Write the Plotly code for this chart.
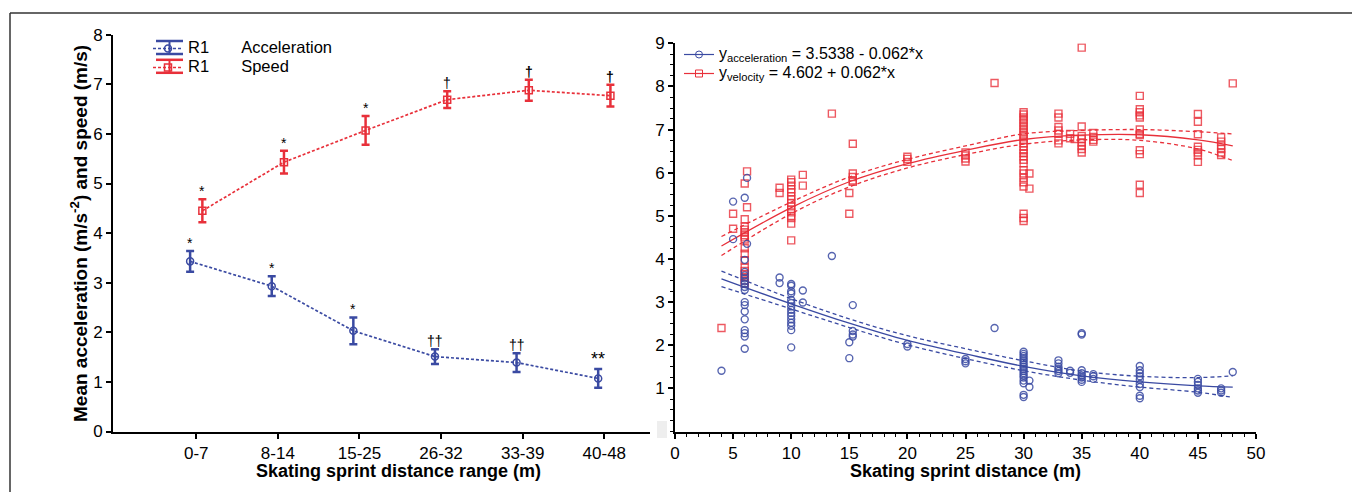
import plotly.graph_objects as go

W, H = 1352, 492


def px(xr):
    return xr / W


def py(yr):
    return 1 - yr / H


# ---------------- Left panel data (means +/- error) ----------------
categories = ["0-7", "8-14", "15-25", "26-32", "33-39", "40-48"]
acc_mean = [3.43, 2.93, 2.03, 1.51, 1.39, 1.07]
acc_err = [0.21, 0.20, 0.27, 0.15, 0.19, 0.19]
speed_mean = [4.45, 5.43, 6.07, 6.69, 6.88, 6.77]
speed_err = [0.23, 0.23, 0.29, 0.17, 0.21, 0.22]
acc_sig = ["*", "*", "*", "††", "††", "**"]
speed_sig = ["*", "*", "*", "†", "<b>†</b>", "<b>†</b>"]

# ---------------- Right panel data (individual observations) ----------------
vel_cols = [
    (4, [2.40]),
    (5, [5.05, 4.70]),
    (6, [5.75, 4.92, 4.75, 4.68, 4.62, 4.55, 4.50, 4.45, 4.25, 4.12, 3.97,
         3.80, 3.72, 3.65, 3.58, 3.50, 3.43]),
    (6.2, [6.03, 5.20]),
    (9, [5.65, 5.53]),
    (10, [5.84, 5.78, 5.70, 5.62, 5.55, 5.45, 5.38, 5.30, 5.22, 5.15, 5.08,
          5.00, 4.95, 4.82, 4.43]),
    (11, [5.95, 5.70]),
    (13.5, [7.37]),
    (15, [5.53, 5.05]),
    (15.3, [6.67, 5.98, 5.90, 5.82, 5.79]),
    (20, [6.37, 6.32, 6.25]),
    (25, [6.47, 6.40, 6.33, 6.26]),
    (27.5, [8.08]),
    (30, [7.40, 7.35, 7.28, 7.22, 7.15, 7.08, 7.02, 6.95, 6.88, 6.82, 6.75,
          6.68, 6.60, 6.52, 6.45, 6.38, 6.30, 6.22, 6.06, 5.98, 5.88, 5.78,
          5.68, 5.05, 4.95, 4.88]),
    (30.5, [5.98, 5.63]),
    (33, [7.37, 7.28, 7.06, 6.98, 6.90, 6.75, 6.68]),
    (34, [6.90, 6.80]),
    (34.4, [6.78]),
    (35, [8.90, 7.07, 6.85, 6.78, 6.70, 6.62, 6.55, 6.47]),
    (36, [6.92, 6.83, 6.76, 6.72]),
    (40, [7.78, 7.47, 7.40, 7.33, 7.28, 7.00, 6.90, 6.87, 6.52, 6.43, 5.72, 5.53]),
    (45, [7.36, 7.18, 6.89, 6.60, 6.53, 6.47, 6.40, 6.25]),
    (47, [6.82, 6.72, 6.63, 6.55, 6.47, 6.41]),
    (48, [8.07]),
]
acc_cols = [
    (4, [1.41]),
    (5, [5.33, 4.46]),
    (6, [5.42, 3.98, 3.70, 3.62, 3.55, 3.48, 3.42, 3.35, 3.28, 3.00, 2.93,
         2.78, 2.60, 2.35, 2.28, 2.20, 1.92]),
    (6.2, [5.88, 4.35]),
    (9, [3.57, 3.44]),
    (10, [3.42, 3.38, 3.25, 3.20, 3.05, 2.98, 2.90, 2.82, 2.75, 2.68, 2.60,
          2.52, 2.45, 2.35, 1.95]),
    (11, [3.27, 2.99]),
    (13.5, [4.07]),
    (15, [2.07, 1.70]),
    (15.3, [2.93, 2.33, 2.25, 2.20]),
    (20, [2.03, 1.97]),
    (25, [1.68, 1.63, 1.58]),
    (27.5, [2.40]),
    (30, [1.85, 1.80, 1.75, 1.70, 1.65, 1.60, 1.55, 1.50, 1.45, 1.40, 1.35,
          1.30, 1.25, 1.18, 1.12, 0.85, 0.80]),
    (30.5, [1.18, 1.03]),
    (33, [1.65, 1.58, 1.50, 1.45, 1.40, 1.35]),
    (34, [1.41, 1.36]),
    (35, [2.28, 2.25, 1.42, 1.35, 1.30, 1.25, 1.20, 1.15]),
    (36, [1.33, 1.28, 1.22]),
    (40, [1.52, 1.42, 1.35, 1.28, 1.20, 1.10, 1.03, 0.83, 0.77]),
    (45, [1.22, 1.15, 1.08, 1.00, 0.95, 0.90]),
    (47, [1.00, 0.95, 0.90]),
    (48, [1.38]),
]

# Fitted curves and confidence bands
fit_x = [4, 10, 15, 20, 25, 30, 35, 40, 45, 48]
vel_fit = [4.30, 5.19, 5.79, 6.21, 6.52, 6.77, 6.87, 6.88, 6.76, 6.62]
vel_up = [4.52, 5.32, 5.90, 6.31, 6.62, 6.90, 6.98, 7.00, 6.95, 6.90]
vel_lo = [4.08, 5.05, 5.67, 6.11, 6.42, 6.66, 6.76, 6.75, 6.55, 6.28]
acc_fit = [3.54, 2.96, 2.51, 2.11, 1.80, 1.51, 1.29, 1.15, 1.06, 1.03]
acc_up = [3.72, 3.08, 2.61, 2.22, 1.92, 1.64, 1.40, 1.28, 1.25, 1.29]
acc_lo = [3.36, 2.84, 2.41, 2.01, 1.69, 1.41, 1.19, 1.03, 0.91, 0.79]

BLUE = "#3a4aa2"
RED = "#e8303a"
BLUE_L = "rgba(58,74,162,0.85)"
RED_L = "rgba(232,48,58,0.8)"
FONT = "Liberation Sans, Arial, sans-serif"


def flat(cols):
    xs, ys = [], []
    for x, vals in cols:
        for v in vals:
            xs.append(x)
            ys.append(v)
    return xs, ys


def big(text, size):
    return '<span style="font-size:%spx">%s</span>' % (size, text)


fig = go.Figure()

# ---------------- Left panel ----------------
idx = list(range(len(categories)))
off = 0.075
acc_x = [i - off for i in idx]
spd_x = [i + off for i in idx]
SP = "\u00a0" * 7

fig.add_trace(go.Scatter(
    x=acc_x, y=acc_mean, mode="lines+markers",
    name=big("R1" + SP + "Acceleration", 16.5),
    line=dict(color=BLUE, width=1.7, dash="3px,2px"),
    marker=dict(symbol="circle-open", size=7, color=BLUE, line=dict(width=1.5)),
    error_y=dict(type="data", array=acc_err, color=BLUE, thickness=2.5, width=4),
    xaxis="x", yaxis="y", legend="legend",
))
fig.add_trace(go.Scatter(
    x=spd_x, y=speed_mean, mode="lines+markers",
    name=big("R1" + SP + "Speed", 16.5),
    line=dict(color=RED, width=1.7, dash="3px,2px"),
    marker=dict(symbol="square-open", size=7, color=RED, line=dict(width=1.5)),
    error_y=dict(type="data", array=speed_err, color=RED, thickness=2.5, width=4),
    xaxis="x", yaxis="y", legend="legend",
))

annotations = []
for i in idx:
    annotations.append(dict(
        x=acc_x[i], y=acc_mean[i] + acc_err[i], xref="x", yref="y",
        text=acc_sig[i], showarrow=False, xanchor="center", yanchor="bottom", yshift=-2,
        font=dict(size=18 if acc_sig[i] == "**" else 14, color="black", family=FONT)))
    annotations.append(dict(
        x=spd_x[i], y=speed_mean[i] + speed_err[i], xref="x", yref="y",
        text=speed_sig[i], showarrow=False, xanchor="center", yanchor="bottom", yshift=-2,
        font=dict(size=14, color="black", family=FONT)))

# ---------------- Right panel ----------------
vx, vy = flat(vel_cols)
ax, ay = flat(acc_cols)

for up, lo, fit, col in [(acc_up, acc_lo, acc_fit, BLUE), (vel_up, vel_lo, vel_fit, RED)]:
    fig.add_trace(go.Scatter(x=fit_x, y=fit, mode="lines", line=dict(color=col, width=1.3, shape="spline"),
                             showlegend=False, xaxis="x2", yaxis="y2", hoverinfo="skip"))
    for band in (up, lo):
        fig.add_trace(go.Scatter(x=fit_x, y=band, mode="lines",
                                 line=dict(color=col, width=1.3, dash="4px,3px", shape="spline"),
                                 showlegend=False, xaxis="x2", yaxis="y2", hoverinfo="skip"))

fig.add_trace(go.Scatter(
    x=vx, y=vy, mode="markers", showlegend=False,
    marker=dict(symbol="square-open", size=7, color=RED_L, line=dict(width=1.4)),
    xaxis="x2", yaxis="y2"))
fig.add_trace(go.Scatter(
    x=ax, y=ay, mode="markers", showlegend=False,
    marker=dict(symbol="circle-open", size=7, color=BLUE_L, line=dict(width=1.4)),
    xaxis="x2", yaxis="y2"))

# legend entries for the right panel
fig.add_trace(go.Scatter(
    x=[None], y=[None], mode="lines+markers",
    name=big("y<sub>acceleration</sub> = 3.5338 - 0.062*x", 16),
    line=dict(color=BLUE, width=1.2),
    marker=dict(symbol="circle-open", size=7, color=BLUE),
    xaxis="x2", yaxis="y2", legend="legend2"))
fig.add_trace(go.Scatter(
    x=[None], y=[None], mode="lines+markers",
    name=big("y<sub>velocity</sub> = 4.602 + 0.062*x", 16),
    line=dict(color=RED, width=1.2),
    marker=dict(symbol="square-open", size=7, color=RED),
    xaxis="x2", yaxis="y2", legend="legend2"))

# ---------------- Titles ----------------
annotations += [
    dict(text="<b>Mean acceleration (m/s<sup>-2</sup>) and speed (m/s)</b>",
         x=px(79), y=py(234), xref="paper", yref="paper", textangle=-90,
         xanchor="center", yanchor="middle",
         showarrow=False, font=dict(size=19, color="black", family=FONT)),
    dict(text="<b>Skating sprint distance range (m)</b>",
         x=px(398), y=py(471), xref="paper", yref="paper",
         xanchor="center", yanchor="middle",
         showarrow=False, font=dict(size=18, color="black", family=FONT)),
    dict(text="<b>Skating sprint distance (m)</b>",
         x=px(965), y=py(471), xref="paper", yref="paper",
         xanchor="center", yanchor="middle",
         showarrow=False, font=dict(size=18, color="black", family=FONT)),
]

# error-bar caps drawn on the left legend symbols
legend_rows = [(47.5, BLUE), (66.3, RED)]
shapes = [
    dict(type="line", xref="paper", yref="paper", x0=px(10), x1=1, y0=py(13), y1=py(13),
         line=dict(color="#333333", width=1.5)),
    dict(type="line", xref="paper", yref="paper", x0=px(10), x1=px(10), y0=0, y1=py(13),
         line=dict(color="#333333", width=1.5)),
    dict(type="rect", xref="paper", yref="paper", x0=px(657), x1=px(667),
         y0=py(438), y1=py(421), line=dict(width=0), fillcolor="#eeeeee"),
]
for yc, col in legend_rows:
    for dy in (-6.5, 6.5):
        shapes.append(dict(type="line", xref="paper", yref="paper", x0=px(156), x1=px(183),
                           y0=py(yc + dy), y1=py(yc + dy), line=dict(color=col, width=2.5)))
    shapes.append(dict(type="line", xref="paper", yref="paper", x0=px(169.5), x1=px(169.5),
                       y0=py(yc - 6.5), y1=py(yc + 6.5), line=dict(color=col, width=2)))

axis_common = dict(showline=True, linecolor="black", linewidth=2, showgrid=False,
                   zeroline=False, ticks="outside", tickcolor="black", automargin=False,
                   tickfont=dict(size=17, color="black", family=FONT))

fig.update_layout(
    template="none",
    width=W, height=H, autosize=False,
    margin=dict(l=0, r=0, t=0, b=0, pad=0),
    paper_bgcolor="white", plot_bgcolor="white",
    font=dict(family=FONT, color="black"),
    xaxis=dict(domain=[px(113), px(650)], range=[-1.02, 5.56], tickvals=idx,
               ticktext=categories, ticklen=5, tickwidth=1.5, anchor="y", **axis_common),
    yaxis=dict(domain=[py(431.5), py(34.7)], range=[0, 8], dtick=1,
               ticklen=5, tickwidth=1.5, anchor="x", **axis_common),
    xaxis2=dict(domain=[px(675), px(1256)], range=[0, 50], dtick=5, ticklen=5,
                tickwidth=1.5, anchor="y2",
                minor=dict(dtick=1, ticks="outside", ticklen=3, tickcolor="black", tickwidth=1),
                **axis_common),
    yaxis2=dict(domain=[py(431.5), py(43.3)], range=[0, 9], tickvals=list(range(1, 10)),
                ticklen=5, tickwidth=1.5, anchor="x2",
                minor=dict(dtick=0.25, ticks="outside", ticklen=3, tickcolor="black", tickwidth=1),
                **axis_common),
    legend=dict(x=px(148), y=py(34), xanchor="left", yanchor="top",
                bgcolor="rgba(0,0,0,0)", borderwidth=0,
                font=dict(size=11.5, family=FONT, color="black"), itemwidth=30),
    legend2=dict(x=px(679), y=py(40), xanchor="left", yanchor="top",
                 bgcolor="rgba(0,0,0,0)", borderwidth=0,
                 font=dict(size=11.5, family=FONT, color="black"), itemwidth=30),
    annotations=annotations,
    shapes=shapes,
)

fig.write_html(
    "out.html",
    config={"displayModeBar": False},
    post_script="document.body.style.margin='0';document.body.style.padding='0';"
                "document.body.style.overflow='hidden';",
)
